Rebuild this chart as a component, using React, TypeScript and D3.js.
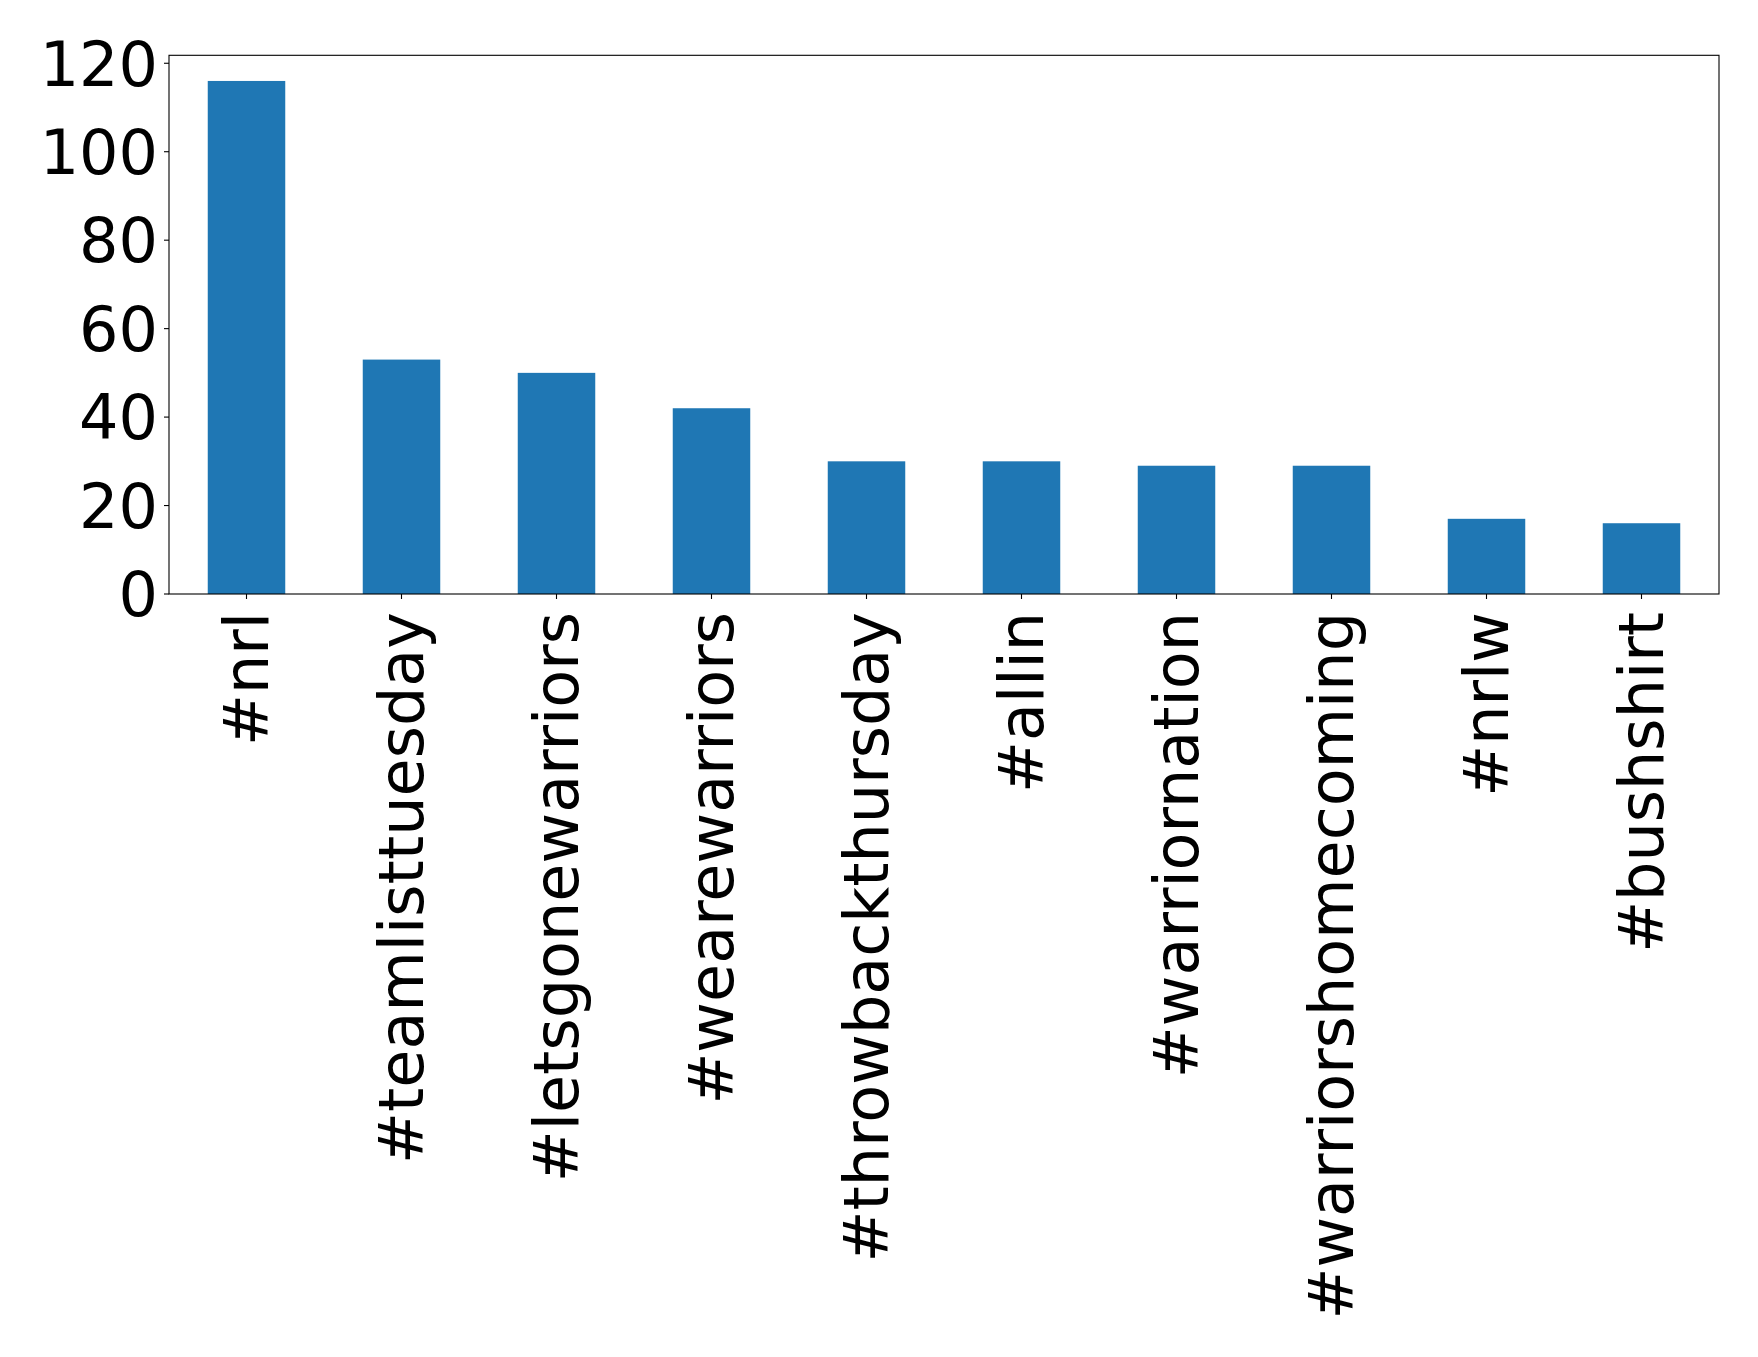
import React from "react";
import * as d3 from "d3";

const categories = [
  "#nrl",
  "#teamlisttuesday",
  "#letsgonewarriors",
  "#wearewarriors",
  "#throwbackthursday",
  "#allin",
  "#warriornation",
  "#warriorshomecoming",
  "#nrlw",
  "#bushshirt",
];
const counts = [116, 53, 50, 42, 30, 30, 29, 29, 17, 16];
const yTicks = [0, 20, 40, 60, 80, 100, 120];

const W = 1758;
const H = 1357;
const left = 169;
const right = 1719;
const top = 55.3;
const bottom = 594;
const FS = 62;
const FONT = "DejaVu Sans, sans-serif";

export default function App() {
  const x = d3
    .scaleLinear()
    .domain([-0.5, categories.length - 0.5])
    .range([left, right]);
  const yMax = (d3.max(counts) as number) * 1.05;
  const y = d3.scaleLinear().domain([0, yMax]).range([bottom, top]);
  const barW = x(0.25) - x(-0.25);

  return (
    <svg
      width={W}
      height={H}
      style={{ display: "block", position: "absolute", left: 0, top: 0 }}
      fontFamily={FONT}
    >
      <rect x={0} y={0} width={W} height={H} fill="white" />
      {counts.map((v, i) => (
        <rect
          key={i}
          x={x(i) - barW / 2}
          y={y(v)}
          width={barW}
          height={bottom - y(v)}
          fill="#1f77b4"
        />
      ))}
      <rect
        x={left}
        y={top}
        width={right - left}
        height={bottom - top}
        fill="none"
        stroke="black"
        strokeWidth={1.1}
      />
      {yTicks.map((t) => (
        <g key={t}>
          <line x1={left - 5} x2={left} y1={y(t)} y2={y(t)} stroke="black" strokeWidth={1.1} />
          <text
            x={left - 11}
            y={y(t)}
            fontSize={FS}
            textAnchor="end"
            dy="0.36em"
            fill="black"
          >
            {t}
          </text>
        </g>
      ))}
      {categories.map((c, i) => (
        <g key={c}>
          <line x1={x(i)} x2={x(i)} y1={bottom} y2={bottom + 5} stroke="black" strokeWidth={1.1} />
          <text
            transform={`translate(${x(i) + 21},${bottom + 18}) rotate(-90)`}
            fontSize={FS}
            textAnchor="end"
            fill="black"
          >
            {c}
          </text>
        </g>
      ))}
    </svg>
  );
}
